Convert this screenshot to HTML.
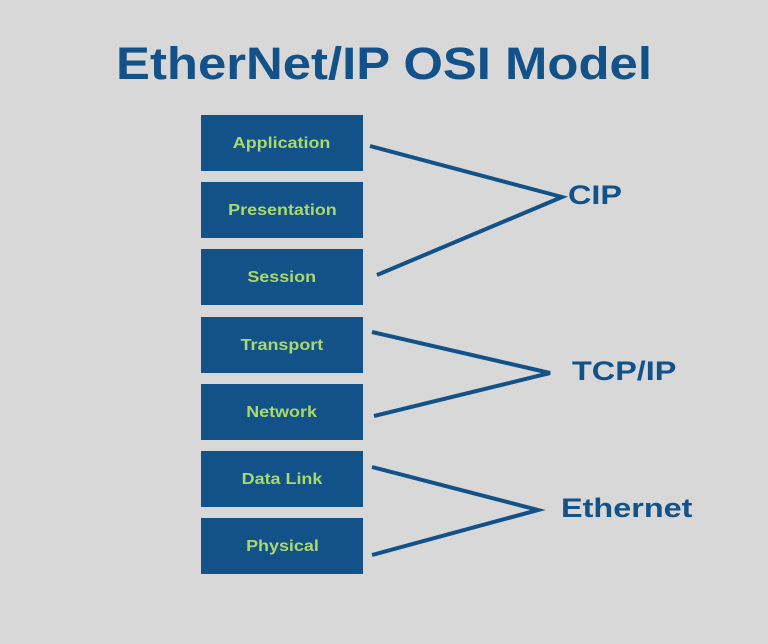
<!DOCTYPE html>
<html><head><style>
body{margin:0;width:768px;height:644px;background:#d8d8d8;position:relative;overflow:hidden;font-family:"Liberation Sans",sans-serif;}
.t{position:absolute;left:0;width:768px;top:38px;text-align:center;font-size:45px;font-weight:bold;color:#135289;transform:scaleX(1.13);transform-origin:384px 0}
.b{position:absolute;left:201px;width:162px;height:56px;background:#135289;color:#a9d96c;font-weight:bold;font-size:16px;display:flex;align-items:center;justify-content:center;padding-top:2px;box-sizing:border-box}
.b span{display:inline-block;transform:scaleX(1.12)}
.l{position:absolute;font-weight:bold;color:#135289;font-size:27px;transform:scaleX(1.2);transform-origin:0 0}
</style></head><body>
<div class="t">EtherNet/IP OSI Model</div>
<div class="b" style="top:115px"><span>Application</span></div>
<div class="b" style="top:182px"><span>Presentation</span></div>
<div class="b" style="top:249px"><span>Session</span></div>
<div class="b" style="top:317px"><span>Transport</span></div>
<div class="b" style="top:384px"><span>Network</span></div>
<div class="b" style="top:451px"><span>Data Link</span></div>
<div class="b" style="top:518px"><span>Physical</span></div>
<svg width="768" height="644" style="position:absolute;left:0;top:0">
<g fill="none" stroke="#135289" stroke-width="4">
<polyline points="370,146 562,197 377,275"/>
<polyline points="372,332 550,373 374,416"/>
<polyline points="372,467 538,510 372,555"/>
</g></svg>
<div class="l" style="left:568px;top:180px">CIP</div>
<div class="l" style="left:572px;top:356px">TCP/IP</div>
<div class="l" style="left:561px;top:493px">Ethernet</div>
</body></html>
